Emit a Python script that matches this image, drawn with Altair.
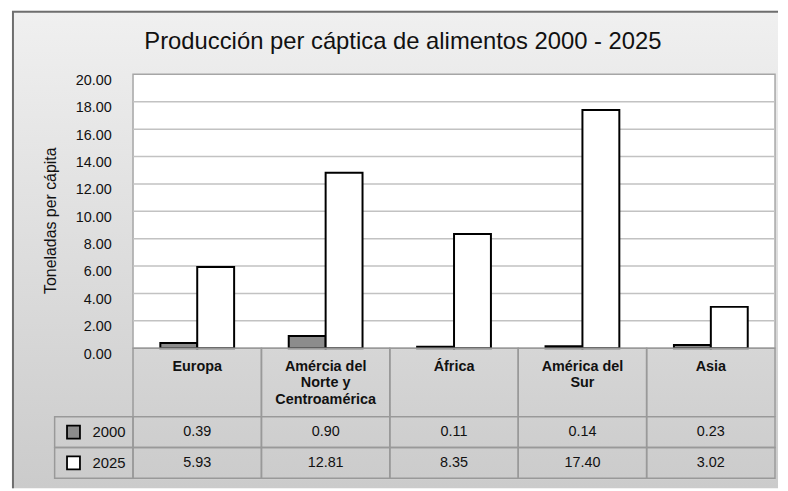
import altair as alt
import pandas as pd

regions = ["Europa", "Amércia del Norte y Centroamérica", "África", "América del Sur", "Asia"]
region_labels = ["Europa", "Amércia del\nNorte y\nCentroamérica", "África", "América del\nSur", "Asia"]
series = ["2000", "2025"]
values_2000 = [0.39, 0.90, 0.11, 0.14, 0.23]
values_2025 = [5.93, 12.81, 8.35, 17.40, 3.02]
y_ticks = [0, 2, 4, 6, 8, 10, 12, 14, 16, 18, 20]
title_text = "Producción per cáptica de alimentos 2000 - 2025"
y_title = "Toneladas per cápita"

FONT = "Liberation Sans, Arial, sans-serif"
W = 647
H_TOP = 276
H_HEAD = 69
H_VAL = 62
GRID = "#999999"

rows = []
for r, lab, a, b in zip(regions, region_labels, values_2000, values_2025):
    rows.append({"region": r, "label": lab, "series": series[0], "value": a})
    rows.append({"region": r, "label": lab, "series": series[1], "value": b})
df = pd.DataFrame(rows)
df_regions = pd.DataFrame({"region": regions, "label": region_labels})
df_series = pd.DataFrame({"series": series})
df_grid = pd.DataFrame({"value": y_ticks[1:-1]})
df_one = pd.DataFrame({"k": [0]})

x_scale = alt.Scale(domain=regions, paddingInner=0, paddingOuter=0)
fill_scale = alt.Scale(domain=series, range=["#8c8c8c", "#ffffff"])
y_scale = alt.Scale(domain=[0, 20], nice=False, zero=True)

y_axis_top = alt.Axis(values=y_ticks, format=".2f", grid=False, domain=False, ticks=False,
                      tickSize=0, labelPadding=22, labelFontSize=14.5, labelFont=FONT,
                      labelColor="#111111", labelOffset=6, labelOverlap=False,
                      labelBaseline="middle",
                      title=y_title, titleFont=FONT, titleFontSize=16,
                      titleFontWeight="normal", titleColor="#111111",
                      titleX=-75, titleY=147, titleAngle=-90, titleBaseline="bottom",
                      titleAlign="center", zindex=1)

grad = alt.Gradient(
    gradient="linear",
    stops=[alt.GradientStop(color="#f0f0f0", offset=0),
           alt.GradientStop(color="#cbcbcb", offset=1)],
    x1=0, x2=0, y1=0, y2=1,
)

bg = alt.Chart(df_one).mark_rect(color=grad, clip=False).encode(
    x=alt.value(-122), x2=alt.value(W + 3), y=alt.value(-64), y2=alt.value(417)
)
frame_left = alt.Chart(df_one).mark_rule(color="#6e6e6e", strokeWidth=2, clip=False).encode(
    x=alt.value(-121), y=alt.value(-63), y2=alt.value(417)
)
frame_top = alt.Chart(df_one).mark_rule(color="#6e6e6e", strokeWidth=2, clip=False).encode(
    x=alt.value(-122), x2=alt.value(W + 3), y=alt.value(-63)
)
plot_bg = alt.Chart(df_one).mark_rect(fill="white", stroke="#a6a6a6", strokeWidth=1.5).encode(
    x=alt.value(0), x2=alt.value(W), y=alt.value(0), y2=alt.value(H_TOP)
)
grid = alt.Chart(df_grid).mark_rule(color="#c2c2c2", strokeWidth=1.5).encode(
    y=alt.Y("value:Q", scale=y_scale, axis=y_axis_top),
    x=alt.value(0), x2=alt.value(W),
)
bars = alt.Chart(df).mark_bar(stroke="black", strokeWidth=2, clip=False).encode(
    x=alt.X("region:N", sort=regions, scale=x_scale, axis=None),
    xOffset=alt.XOffset("series:N", sort=series,
                        scale=alt.Scale(domain=series, paddingInner=0, paddingOuter=0.74)),
    y=alt.Y("value:Q", scale=y_scale, axis=y_axis_top),
    fill=alt.Fill("series:N", scale=fill_scale, legend=None),
)
title = alt.Chart(df_one).mark_text(
    text=title_text, font=FONT, fontSize=24, color="#111111", align="center",
    baseline="alphabetic", clip=False,
).encode(x=alt.value(272), y=alt.value(-26))

top = alt.layer(bg, frame_left, frame_top, plot_bg, grid, bars, title).properties(
    width=W, height=H_TOP
)

head_cells = alt.Chart(df_regions).mark_rect(fill="white", fillOpacity=0, stroke=GRID, strokeWidth=1.5).encode(
    x=alt.X("region:N", sort=regions, scale=x_scale, axis=None),
)
head_text = alt.Chart(df_regions).mark_text(
    font=FONT, fontSize=14.5, fontWeight="bold", color="#111111", align="center",
    baseline="top", lineBreak="\n", lineHeight=16.5,
).encode(
    x=alt.X("region:N", sort=regions, scale=x_scale, axis=None),
    y=alt.value(12),
    text="label:N",
)
header = alt.layer(head_cells, head_text).properties(width=W, height=H_HEAD)

y_band = alt.Scale(domain=series, paddingInner=0, paddingOuter=0)
y_axis = alt.Axis(domain=False, ticks=False, tickSize=0, labelPadding=8,
                  labelFont=FONT, labelFontSize=15, labelColor="#111111",
                  title=None, zindex=1)
y_enc = alt.Y("series:N", sort=series, scale=y_band, axis=y_axis)

val_cells = alt.Chart(df).mark_rect(fill="white", fillOpacity=0, stroke=GRID, strokeWidth=1.5).encode(
    x=alt.X("region:N", sort=regions, scale=x_scale, axis=None),
    y=y_enc,
)
legend_cells = alt.Chart(df_series).mark_rect(fill="white", fillOpacity=0, stroke=GRID, strokeWidth=1.5, clip=False).encode(
    x=alt.value(-79), x2=alt.value(0),
    y=y_enc,
)
legend_sq = alt.Chart(df_series).mark_point(
    shape="square", filled=True, size=170, stroke="black", strokeWidth=1.8, opacity=1, clip=False
).encode(
    x=alt.value(-60),
    y=y_enc,
    fill=alt.Fill("series:N", scale=fill_scale, legend=None),
)
val_text = alt.Chart(df).mark_text(
    font=FONT, fontSize=14.5, color="#111111", align="center", baseline="middle"
).encode(
    x=alt.X("region:N", sort=regions, scale=x_scale, axis=None),
    y=y_enc,
    text=alt.Text("value:Q", format=".2f"),
)
values_chart = alt.layer(val_cells, legend_cells, legend_sq, val_text).properties(width=W, height=H_VAL)

chart = alt.vconcat(top, header, values_chart, spacing=0, bounds="flush").resolve_scale(
    x="independent", y="independent"
).properties(
    padding={"left": 2, "top": 0, "right": 0, "bottom": 0}
).configure_view(stroke=None).configure(background="white")

chart.save("out.html", embed_options={"renderer": "svg", "actions": False})
